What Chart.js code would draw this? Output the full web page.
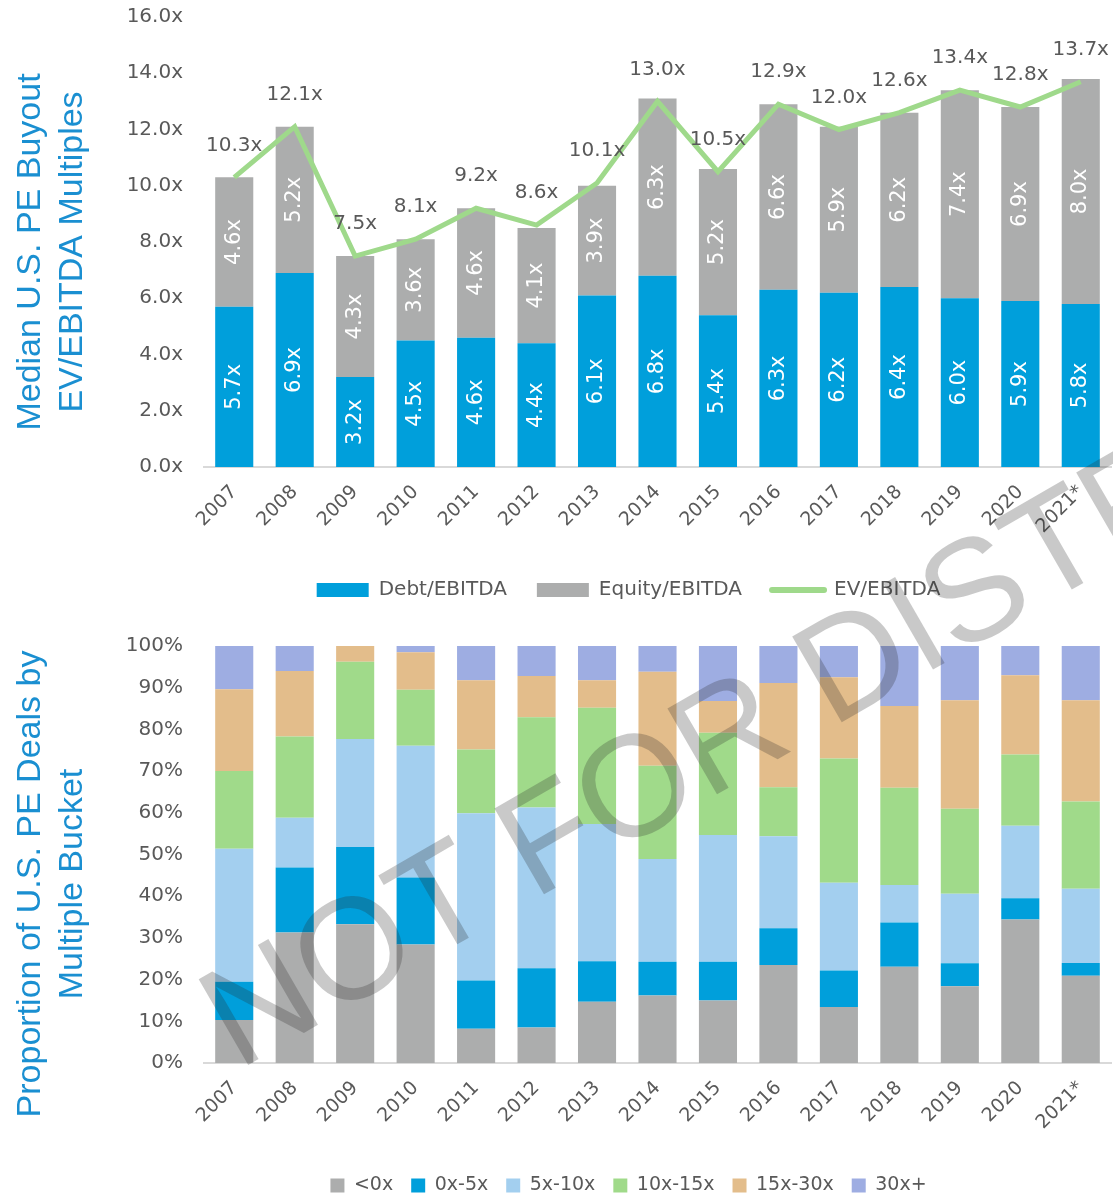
<!DOCTYPE html>
<html>
<head>
<meta charset="utf-8">
<script src="https://cdn.jsdelivr.net/npm/chart.js@4.4.1/dist/chart.umd.min.js"></script>
<style>
  html, body { margin: 0; padding: 0; background: #fff; overflow: hidden; }
  #page { position: relative; width: 1113px; height: 1196px; }
  #topChart { position: absolute; left: 0; top: 0; }
  #bottomChart { position: absolute; left: 0; top: 615px; }
  #mark { position: absolute; left: 0; top: 0; pointer-events: none; }
</style>
</head>
<body>
<div id="page">
  <canvas id="topChart" width="1113" height="615"></canvas>
  <canvas id="bottomChart" width="1113" height="590"></canvas>
  <svg id="mark" width="1113" height="1196">
    <text x="238" y="1071" transform="rotate(-30 238 1071)" font-family="Liberation Sans, Arial, sans-serif"
          font-size="144" fill="rgba(40,40,40,0.25)">NOT FOR DISTRIBUTION</text>
  </svg>
</div>
<script>
// ---- data ----
const years = ['2007', '2008', '2009', '2010', '2011', '2012', '2013', '2014', '2015', '2016', '2017', '2018', '2019', '2020', '2021*'];

const debtEbitda   = [5.7, 6.9, 3.2, 4.5, 4.6, 4.4, 6.1, 6.8, 5.4, 6.3, 6.2, 6.4, 6.0, 5.9, 5.8];
const equityEbitda = [4.6, 5.2, 4.3, 3.6, 4.6, 4.1, 3.9, 6.3, 5.2, 6.6, 5.9, 6.2, 7.4, 6.9, 8.0];
const evEbitda     = [10.3, 12.1, 7.5, 8.1, 9.2, 8.6, 10.1, 13.0, 10.5, 12.9, 12.0, 12.6, 13.4, 12.8, 13.7];

// share of deals (%) by multiple bucket
const bucketBelow0 = [10.3, 31.3, 33.3, 28.4, 8.2, 8.5, 14.7, 16.2, 15.0, 23.5, 13.4, 23.1, 18.4, 34.4, 20.9];
const bucket0to5   = [9.2, 15.6, 18.5, 16.1, 11.6, 14.2, 9.7, 8.1, 9.3, 8.8, 8.8, 10.6, 5.5, 5.1, 3.1];
const bucket5to10  = [31.9, 11.9, 25.9, 31.6, 40.1, 38.6, 32.9, 24.6, 30.4, 22.1, 21.0, 9.0, 16.7, 17.4, 17.8];
const bucket10to15 = [18.6, 19.5, 18.5, 13.4, 15.3, 21.6, 27.9, 22.4, 24.5, 11.7, 29.8, 23.3, 20.4, 17.1, 20.9];
const bucket15to30 = [19.6, 15.7, 3.8, 9.0, 16.6, 9.9, 6.6, 22.5, 7.6, 25.0, 19.5, 19.6, 26.0, 19.0, 24.3];
const bucket30plus = [10.4, 6.0, 0, 1.5, 8.2, 7.2, 8.2, 6.2, 13.2, 8.9, 7.5, 14.4, 13.0, 7.0, 13.0];

const multipleTicks = [0, 2, 4, 6, 8, 10, 12, 14, 16];
const percentTicks  = [0, 10, 20, 30, 40, 50, 60, 70, 80, 90, 100];

// ---- styles ----
const BLUE = '#009fdb';
const GREY = '#acadad';
const GREEN = '#9fd98b';
const TEXT = '#595959';
const TITLE = '#1a8fd1';
const FONT = "'DejaVu Sans', 'Liberation Sans', sans-serif";

Chart.defaults.font.family = FONT;
Chart.defaults.color = TEXT;

// rotated axis titles, drawn at fixed spots beside the plot
const sideTitle = {
  id: 'sideTitle',
  afterDraw(chart, args, opts) {
    const ctx = chart.ctx;
    ctx.save();
    ctx.fillStyle = TITLE;
    ctx.font = "34px 'Liberation Sans', Arial, sans-serif";
    ctx.textAlign = 'center';
    ctx.textBaseline = 'middle';
    opts.lines.forEach((line, i) => {
      ctx.save();
      ctx.translate(opts.x[i], opts.y);
      ctx.rotate(-Math.PI / 2);
      ctx.fillText(line, 0, 0);
      ctx.restore();
    });
    ctx.restore();
  }
};

// legend is centred between this left edge and the right edge of the canvas
const legendSpan = {
  id: 'legendSpan',
  afterLayout(chart, args, opts) {
    const lg = chart.legend;
    if (!lg) return;
    lg.left = opts.left;
    lg.width = lg.right - lg.left;
  }
};

// value labels for the top chart
const valueLabels = {
  id: 'valueLabels',
  afterDatasetsDraw(chart) {
    const ctx = chart.ctx;
    ctx.save();
    ctx.textAlign = 'center';
    ctx.textBaseline = 'middle';
    // inside the bars, rotated
    [0, 1].forEach(di => {
      const values = chart.data.datasets[di].data;
      chart.getDatasetMeta(di).data.forEach((bar, i) => {
        ctx.save();
        ctx.translate(bar.x, (bar.y + bar.base) / 2);
        ctx.rotate(-Math.PI / 2);
        ctx.font = '21px ' + FONT;
        ctx.fillStyle = '#ffffff';
        ctx.fillText(values[i].toFixed(1) + 'x', 0, 0);
        ctx.restore();
      });
    });
    // above the line points
    const ev = chart.data.datasets[2].data;
    chart.getDatasetMeta(2).data.forEach((pt, i) => {
      ctx.font = '20px ' + FONT;
      ctx.fillStyle = TEXT;
      ctx.fillText(ev[i].toFixed(1) + 'x', pt.x, pt.y - 32);
    });
    ctx.restore();
  }
};

const xAxis = (height) => ({
  stacked: true,
  grid: { display: false, drawTicks: false },
  border: { display: true, color: '#d9d9d9', width: 2 },
  ticks: { minRotation: 45, maxRotation: 45, padding: 14, color: TEXT, font: { size: 19 } },
  afterFit: s => { s.height = height; }
});

const yAxis = (min, max, ticks, fmt) => ({
  stacked: true,
  min: min,
  max: max,
  border: { display: false },
  grid: { display: false, drawTicks: false },
  afterBuildTicks: s => { s.ticks = ticks.map(v => ({ value: v })); },
  ticks: { padding: 21, color: TEXT, font: { size: 20 }, callback: fmt },
  afterFit: s => { s.width = 100; s.paddingTop = 0; s.paddingBottom = 0; }
});

// ---- top chart ----
new Chart(document.getElementById('topChart'), {
  type: 'bar',
  data: {
    labels: years,
    datasets: [
      { label: 'Debt/EBITDA', data: debtEbitda, backgroundColor: BLUE, order: 1 },
      { label: 'Equity/EBITDA', data: equityEbitda, backgroundColor: GREY, order: 1 },
      { type: 'line', label: 'EV/EBITDA', data: evEbitda, borderColor: GREEN, backgroundColor: GREEN,
        borderWidth: 5, pointRadius: 0, tension: 0, stack: 'ev', order: 0 }
    ]
  },
  options: {
    responsive: false,
    animation: false,
    layout: { padding: { left: 104, right: 2, top: 17, bottom: 5 } },
    datasets: { bar: { categoryPercentage: 1, barPercentage: 0.63 } },
    scales: {
      x: xAxis(83),
      y: yAxis(0, 16, multipleTicks, v => v.toFixed(1) + 'x')
    },
    plugins: {
      tooltip: { enabled: false },
      legend: {
        position: 'bottom',
        labels: {
          usePointStyle: true,
          pointStyleWidth: 52,
          boxHeight: 14,
          padding: 30,
          color: TEXT,
          font: { size: 20 },
          sort: (a, b) => a.datasetIndex - b.datasetIndex,
          generateLabels: chart => {
            const items = Chart.defaults.plugins.legend.labels.generateLabels(chart);
            return items.map(it => {
              if (it.datasetIndex === 2) {
                return { ...it, pointStyle: 'line', strokeStyle: GREEN, lineWidth: 6, lineCap: 'round' };
              }
              return { ...it, pointStyle: 'rect', lineWidth: 0 };
            });
          }
        }
      },
      legendSpan: { left: 146 },
      sideTitle: { lines: ['Median U.S. PE Buyout', 'EV/EBITDA Multiples'], x: [31, 73], y: 252 }
    }
  },
  plugins: [valueLabels, sideTitle, legendSpan]
});

// ---- bottom chart ----
const buckets = [
  ['<0x', bucketBelow0, GREY],
  ['0x-5x', bucket0to5, BLUE],
  ['5x-10x', bucket5to10, '#a3cfef'],
  ['10x-15x', bucket10to15, '#a0da8a'],
  ['15x-30x', bucket15to30, '#e3bd8b'],
  ['30x+', bucket30plus, '#9eade2']
];

new Chart(document.getElementById('bottomChart'), {
  type: 'bar',
  data: {
    labels: years,
    datasets: buckets.map(([label, data, color]) => ({ label, data, backgroundColor: color }))
  },
  options: {
    responsive: false,
    animation: false,
    layout: { padding: { left: 104, right: 2, top: 31, bottom: 0 } },
    datasets: { bar: { categoryPercentage: 1, barPercentage: 0.63 } },
    scales: {
      x: xAxis(95),
      y: yAxis(0, 100, percentTicks, v => v + '%')
    },
    plugins: {
      tooltip: { enabled: false },
      legend: {
        position: 'bottom',
        labels: { boxWidth: 14, boxHeight: 14, padding: 18, color: TEXT, font: { size: 19 } }
      },
      legendSpan: { left: 146 },
      sideTitle: { lines: ['Proportion of U.S. PE Deals by', 'Multiple Bucket'], x: [31, 73], y: 269 }
    }
  },
  plugins: [sideTitle, legendSpan]
});
</script>
</body>
</html>
